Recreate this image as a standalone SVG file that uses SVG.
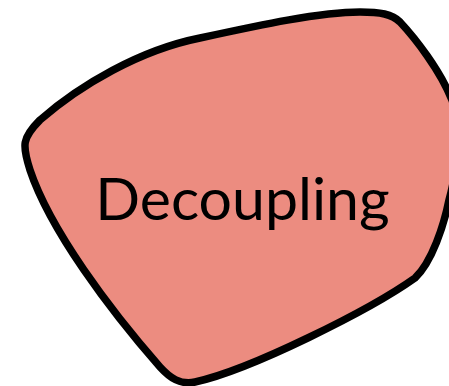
<svg xmlns="http://www.w3.org/2000/svg" width="449" height="386" viewBox="0 0 449 386">
<style>
.blob{fill:#EC8C80;stroke:#000;stroke-width:7.5;stroke-linejoin:round}
.lbl{font-family:Lato,"Noto Sans",sans-serif;font-size:59px;fill:#000}
</style>
<rect width="449" height="386" fill="#fff"/>
<g id="decoupling">
<path class="blob" d="M 360 12 C 380 12 392 14 400 22 C 415 38 440 70 452 100 C 462 130 456 175 449 200 C 444 225 432 262 415 278 C 370 310 250 370 195 382 C 180 385 170 378 160 367 C 110 310 50 230 30 170 C 22 145 22 138 40 120 C 80 85 140 50 200 38 C 260 25 320 12 360 12 Z"/>
<text class="lbl" x="242.5" y="220" text-anchor="middle">Decoupling</text>
</g>
<g id="connectors"/>
</svg>
